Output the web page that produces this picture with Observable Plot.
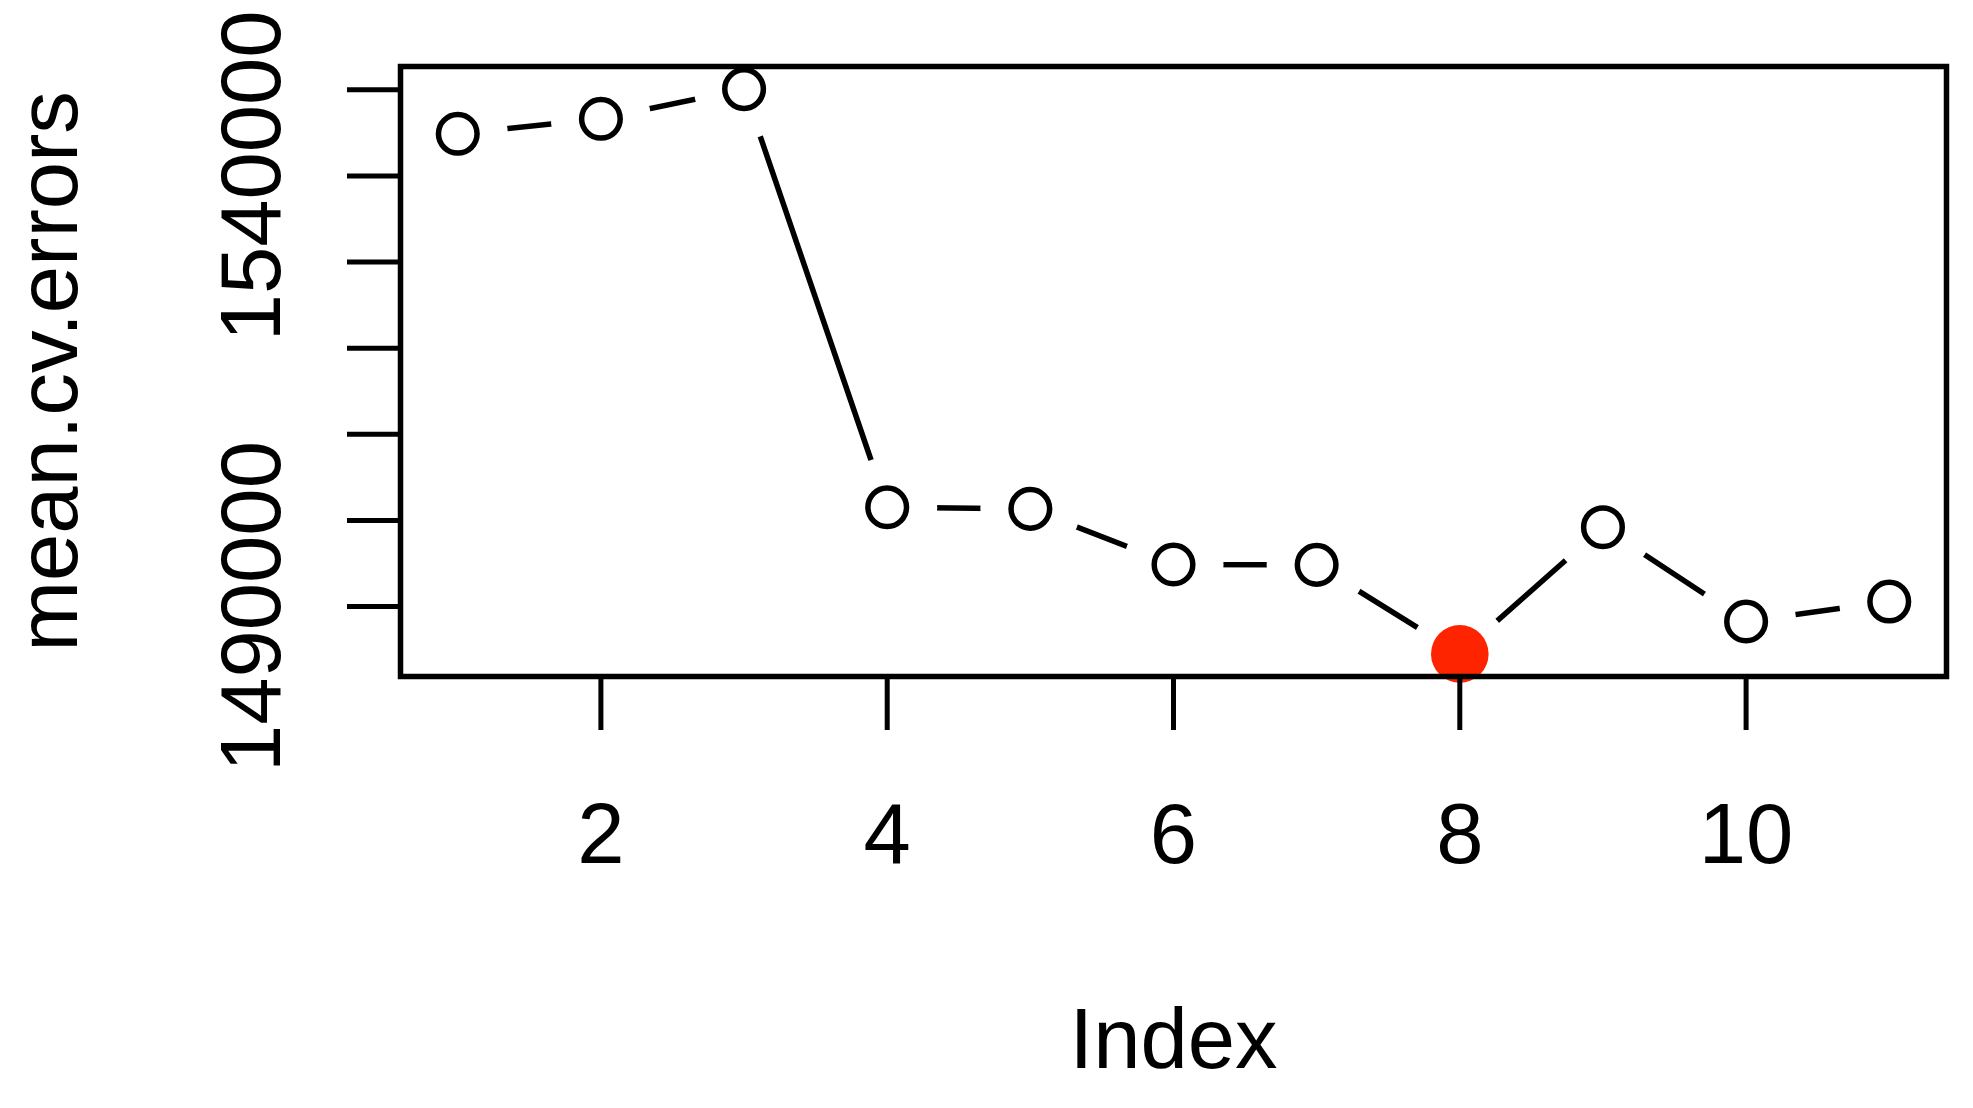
<!DOCTYPE html>
<html>
<head>
<meta charset="utf-8">
<script src="https://cdn.jsdelivr.net/npm/d3@7"></script>
<script src="https://cdn.jsdelivr.net/npm/@observablehq/plot@0.6"></script>
<style>
  html, body { margin: 0; padding: 0; background: #ffffff; }
  #chart { width: 1973px; height: 1108px; }
</style>
</head>
<body>
<div id="chart"></div>
<script>
// ---- data ----
const index = [1, 2, 3, 4, 5, 6, 7, 8, 9, 10, 11];
const meanCvErrors = [1544890, 1546630, 1550080, 1501530, 1501340, 1494880, 1494840, 1484500, 1499210, 1488260, 1490580];
const bestIndex = 8;
const xTickValues = [2, 4, 6, 8, 10];
const yTickValues = [1490000, 1500000, 1510000, 1520000, 1530000, 1540000, 1550000];
const yTickLabels = [1490000, 1540000];
const xTitle = "Index";
const yTitle = "mean.cv.errors";

const data = index.map((i, k) => ({index: i, err: meanCvErrors[k]}));
const best = data.filter(d => d.index === bestIndex);

// R-style 4% domain extension
function ext(vals) {
  const [lo, hi] = d3.extent(vals);
  const pad = (hi - lo) * 0.04;
  return [lo - pad, hi + pad];
}

const font = "'Liberation Sans', Arial, Helvetica, sans-serif";

const chart = Plot.plot({
  width: 1973,
  height: 1108,
  marginLeft: 400,
  marginRight: 27,
  marginTop: 66,
  marginBottom: 432,
  style: {fontFamily: font, fontSize: "85px", color: "#000", background: "#fff"},
  x: {domain: ext(index), label: null},
  y: {domain: ext(meanCvErrors), label: null},
  marks: [
    Plot.line(data, {x: "index", y: "err", stroke: "#000", strokeWidth: 5.5}),
    Plot.dot(data, {x: "index", y: "err", r: 50, fill: "#fff", stroke: null}),
    Plot.dot(data, {x: "index", y: "err", r: 19.3, fill: "none", stroke: "#000", strokeWidth: 5.5}),
    Plot.dot(best, {x: "index", y: "err", r: 28.8, fill: "#ff2400", stroke: null}),
    Plot.frame({stroke: "#000", strokeWidth: 5.5}),
    Plot.axisX(xTickValues, {
      tickSize: 54, tickPadding: 72, strokeWidth: 5, fontSize: 85,
      tickFormat: d => String(d), label: null
    }),
    Plot.axisY(yTickValues, {
      tickSize: 53, tickPadding: 68, tickRotate: -90, strokeWidth: 5, fontSize: 85,
      tickFormat: d => yTickLabels.includes(d) ? String(d) : "", label: null
    }),
    Plot.text([xTitle], {text: d => d, frameAnchor: "bottom", dy: 391, lineAnchor: "bottom", textAnchor: "middle", fontSize: 85}),
    Plot.text([yTitle], {text: d => d, frameAnchor: "left", dx: -324, rotate: -90, lineAnchor: "bottom", textAnchor: "middle", fontSize: 85})
  ]
});

document.getElementById("chart").appendChild(chart);
</script>
</body>
</html>
